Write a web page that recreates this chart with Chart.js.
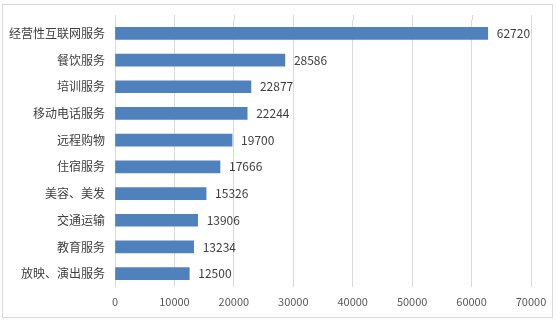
<!DOCTYPE html>
<html>
<head>
<meta charset="utf-8">
<script src="https://cdn.jsdelivr.net/npm/chart.js@4/dist/chart.umd.min.js"></script>
<style>
  body { margin: 0; background: #fff; }
  #frame { position: absolute; left: 2px; top: 4px; width: 549px; height: 312px; border: 1px solid #d9d9d9; }
  #wrap { position: absolute; left: 0; top: 0; width: 556px; height: 320px; }
</style>
</head>
<body>
<div id="frame"></div>
<div id="wrap"><canvas id="chart"></canvas></div>
<script>
const categories = ['经营性互联网服务', '餐饮服务', '培训服务', '移动电话服务', '远程购物', '住宿服务', '美容、美发', '交通运输', '教育服务', '放映、演出服务']
const values = [62720, 28586, 22877, 22244, 19700, 17666, 15326, 13906, 13234, 12500]

const FONT = '"Noto Sans CJK SC", "Microsoft YaHei", sans-serif'

// gridlines in the original run a few px above the first category band
const gridTop = {
  id: 'gridTop',
  beforeDatasetsDraw(chart) {
    const ctx = chart.ctx
    const x = chart.scales.x
    const top = chart.chartArea.top
    ctx.save()
    ctx.strokeStyle = '#d9d9d9'
    ctx.lineWidth = 1
    x.ticks.forEach(t => {
      const px = Math.round(x.getPixelForValue(t.value)) + 0.5
      ctx.beginPath()
      ctx.moveTo(px, top - 5)
      ctx.lineTo(px, top)
      ctx.stroke()
    })
    ctx.restore()
  }
}

// draw the value next to each bar
const barLabels = {
  id: 'barLabels',
  afterDatasetsDraw(chart) {
    const ctx = chart.ctx
    const meta = chart.getDatasetMeta(0)
    ctx.save()
    ctx.font = '12px ' + FONT
    ctx.fillStyle = '#404040'
    ctx.textBaseline = 'middle'
    ctx.textAlign = 'left'
    meta.data.forEach((bar, i) => {
      ctx.fillText(values[i], bar.x + 9, bar.y)
    })
    ctx.restore()
  }
}

const config = {
  type: 'bar',
  data: {
    labels: categories,
    datasets: [{
      data: values,
      backgroundColor: '#4f81bd',
      barThickness: 12
    }]
  },
  options: {
    indexAxis: 'y',
    responsive: false,
    animation: false,
    layout: { padding: { left: 0, right: 25, top: 20, bottom: 0 } },
    plugins: {
      legend: { display: false },
      tooltip: { enabled: false }
    },
    scales: {
      x: {
        min: 0,
        max: 70000,
        ticks: {
          stepSize: 10000,
          color: '#595959',
          font: { family: FONT, size: 11 },
          padding: 8,
          callback: (v) => String(v)
        },
        grid: { color: '#d9d9d9', drawTicks: false },
        border: { display: false },
        afterFit: (scale) => { scale.height = 33 }
      },
      y: {
        ticks: { color: '#404040', font: { family: FONT, size: 12 }, padding: 10 },
        grid: { display: false, drawTicks: false },
        border: { display: false },
        afterFit: (scale) => { scale.width = 115 }
      }
    }
  },
  plugins: [gridTop, barLabels]
}

window.onload = () => {
  const canvas = document.getElementById('chart')
  canvas.width = 556
  canvas.height = 320
  new Chart(canvas, config)
}
</script>
</body>
</html>
